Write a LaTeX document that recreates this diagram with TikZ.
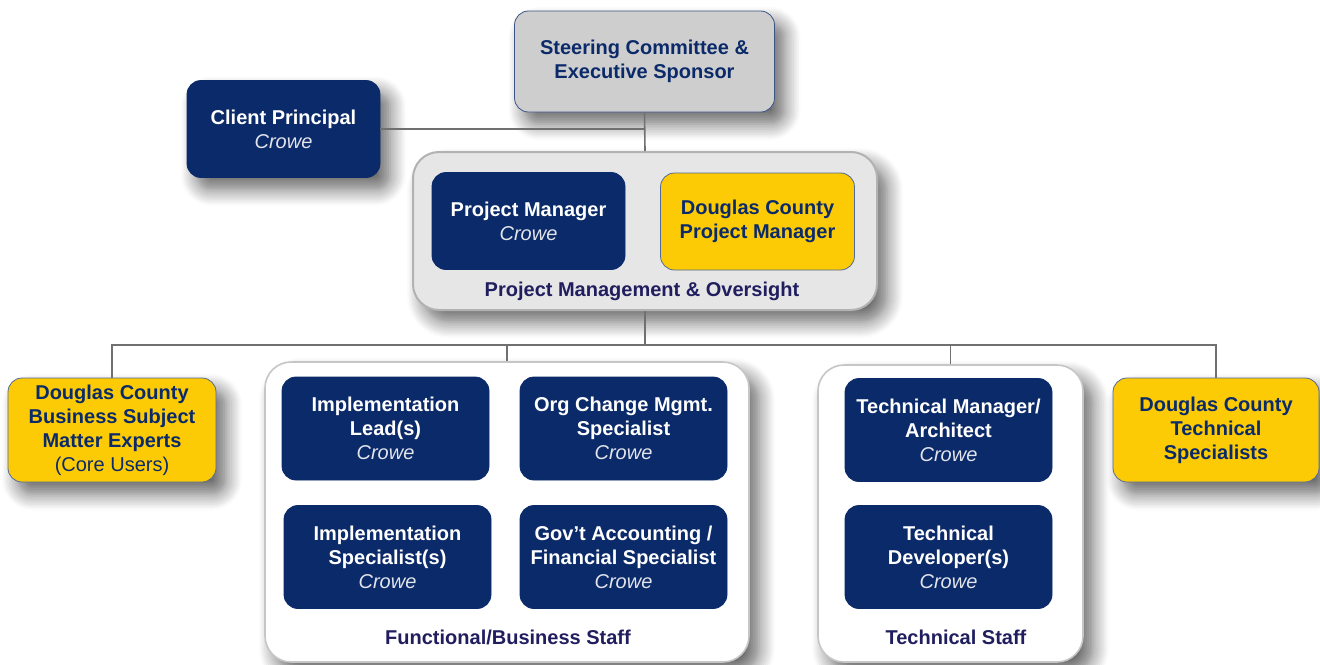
\documentclass[tikz,border=0pt]{standalone}
\usepackage{fontspec}
\setmainfont{Liberation Sans}
\usetikzlibrary{shapes,arrows,positioning,calc,shadows.blur}
\definecolor{crowenavy}{HTML}{0B2A69}
\definecolor{countyyellow}{HTML}{FCCB05}
\definecolor{steergray}{HTML}{CECECE}
\definecolor{pmogray}{HTML}{E6E6E6}
\definecolor{linegray}{HTML}{707070}
\definecolor{titleink}{HTML}{201E5E}
\definecolor{crowetint}{HTML}{E2E4EC}
\newcommand{\crowetag}{{\mdseries\itshape\color{crowetint}Crowe}}
\tikzstyle{softshadow} = [blur shadow={shadow xshift=5pt, shadow yshift=-6pt, shadow blur radius=8pt, shadow blur steps=10, shadow opacity=60}]
\tikzstyle{crowebox} = [draw=crowenavy, fill=crowenavy, text=white,
    rectangle, rounded corners=7pt, align=center, inner sep=0pt,
    minimum width=103.5pt, minimum height=51.5pt,
    font=\fontsize{10}{12}\selectfont\bfseries]
\tikzstyle{countybox} = [draw=crowenavy!70, fill=countyyellow, text=crowenavy,
    rectangle, rounded corners=7pt, align=center, inner sep=0pt,
    minimum width=104pt, minimum height=52pt,
    font=\fontsize{10}{12}\selectfont\bfseries]
\tikzstyle{groupbox} = [draw=gray!45, line width=0.8pt, fill=white,
    rectangle, rounded corners=13pt, inner sep=0pt, softshadow]
\tikzstyle{grouptitle} = [text=titleink, font=\fontsize{10}{12}\selectfont\bfseries]
\tikzstyle{conn} = [draw=linegray, line width=0.8pt]

\begin{document}
\begin{tikzpicture}[x=0.5pt, y=-0.5pt]
\useasboundingbox (0,0) rectangle (1320,664);
% top of the chart
\node [crowebox, fill=steergray, draw=crowenavy!80, text=crowenavy,
    minimum width=130pt, minimum height=50.5pt, softshadow] (steer) at (644.5,61.5)
    {Steering Committee \&\\Executive Sponsor};
\node [crowebox, minimum width=96.5pt, minimum height=48.5pt, softshadow] (client) at (283.5,129)
    {Client Principal\\\crowetag};
\node [groupbox, fill=pmogray, draw=gray!60, line width=1pt,
    minimum width=232pt, minimum height=79pt] (pmo) at (645,231) {};
\node [crowebox, minimum width=96.5pt, minimum height=48.5pt] (pm) at (528.5,221)
    {Project Manager\\\crowetag};
\node [countybox, minimum width=97pt, minimum height=48.5pt] (dcpm) at (757.5,221.5)
    {Douglas County\\Project Manager};
\node [grouptitle] (pmotitle) at (642,291) {Project Management \& Oversight};

% staff groups
\node [countybox, softshadow] (smes) at (112,430)
    {Douglas County\\Business Subject\\Matter Experts\\{\mdseries(Core Users)}};
\node [groupbox, minimum width=242pt, minimum height=150pt] (func) at (507,512) {};
\node [crowebox] (lead) at (385.5,428.5) {Implementation\\Lead(s)\\\crowetag};
\node [crowebox] (orgchange) at (623.5,428.5) {Org Change Mgmt.\\Specialist\\\crowetag};
\node [crowebox] (implspec) at (387.5,557) {Implementation\\Specialist(s)\\\crowetag};
\node [crowebox] (govacct) at (623.5,557) {Gov't Accounting /\\Financial Specialist\\\crowetag};
\node [grouptitle] (functitle) at (508,637) {Functional/Business Staff};

\node [groupbox, minimum width=132.5pt, minimum height=148.5pt] (tech) at (950.5,513.5) {};
\node [crowebox] (techmgr) at (948.5,430) {Technical Manager/\\Architect\\\crowetag};
\node [crowebox] (techdev) at (948.5,557) {Technical\\Developer(s)\\\crowetag};
\node [grouptitle] (techtitle) at (956,637) {Technical Staff};
\node [countybox, minimum width=103pt, softshadow] (techspec) at (1216,430)
    {Douglas County\\Technical\\Specialists};

% connectors
\coordinate (bus) at (645,345);
\draw [conn] (steer.south) -- (pmo.north);
\draw [conn] (client.east) -- (client.east -| steer.south);
\draw [conn] (pmo.south) -- (bus);
\draw [conn] (smes.north) |- (bus) -| (techspec.north);
\draw [conn] (bus -| func.north) -- (func.north);
\draw [conn] (bus -| tech.north) -- (tech.north);
\end{tikzpicture}
\end{document}
